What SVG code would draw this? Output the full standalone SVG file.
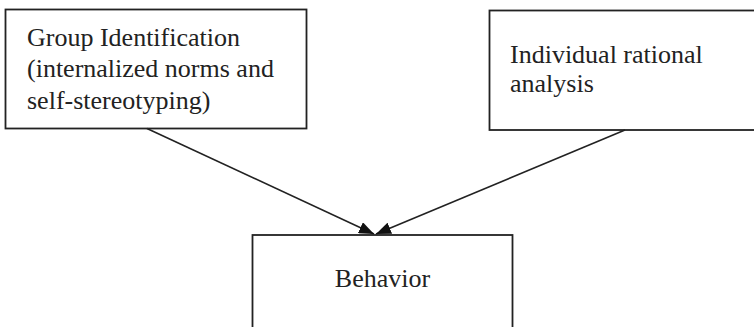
<svg xmlns="http://www.w3.org/2000/svg" width="754" height="327" viewBox="0 0 754 327">
<style>
.box{fill:#fff;stroke:#222;stroke-width:1.8}
.t{font-family:"Liberation Serif","Times New Roman",serif;font-size:26px;fill:#222}
.c{stroke:#222;stroke-width:1.6;fill:none}
</style>
<defs>
<marker id="ah" viewBox="0 0 15 12" refX="15" refY="6" markerWidth="15" markerHeight="12" markerUnits="userSpaceOnUse" orient="auto">
<path d="M0,0 L15,6 L0,12 Z" fill="#111"/>
</marker>
</defs>
<rect width="754" height="327" fill="#fff"/>
<g id="group-identification">
<rect class="box" x="5.5" y="9.5" width="301" height="119"/>
<text class="t" x="27" y="45.5">Group Identification</text>
<text class="t" x="27" y="77">(internalized norms and</text>
<text class="t" x="27" y="108.5">self-stereotyping)</text>
</g>
<g id="individual-rational-analysis">
<rect class="box" x="489.5" y="10.5" width="280" height="119.5"/>
<text class="t" x="510" y="63">Individual rational</text>
<text class="t" x="510" y="92">analysis</text>
</g>
<g id="behavior">
<rect class="box" x="252.5" y="235" width="260" height="110"/>
<text class="t" x="382.5" y="287" text-anchor="middle">Behavior</text>
</g>
<g id="connectors">
<line class="c" x1="147" y1="128.5" x2="374" y2="234" marker-end="url(#ah)"/>
<line class="c" x1="625" y1="130" x2="376" y2="234" marker-end="url(#ah)"/>
</g>
</svg>
